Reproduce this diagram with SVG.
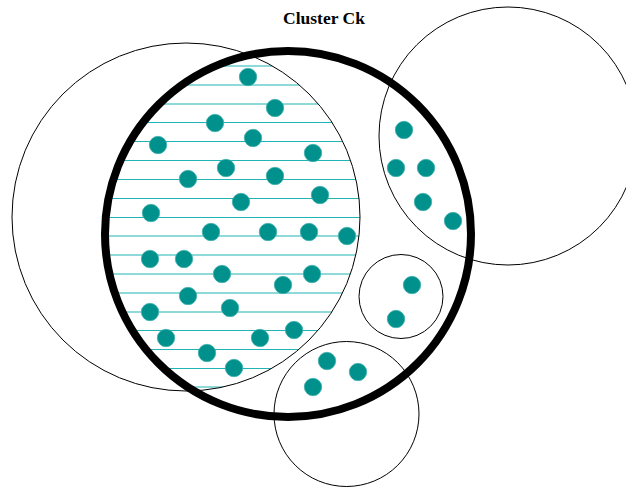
<svg xmlns="http://www.w3.org/2000/svg" width="626" height="488" viewBox="0 0 626 488">
<style>
.set{fill:none;stroke:#000;stroke-width:1}
.cluster{fill:none;stroke:#000;stroke-width:8}
.hatch{stroke:#22b4b4;stroke-width:1.2}
.pt{fill:#00918d;stroke:#3fb0ad;stroke-width:0.8}
.title{font-family:"Liberation Serif","Times New Roman",serif;font-weight:bold;font-size:17.5px;fill:#000}
</style>
<defs>
<clipPath id="cl"><circle cx="288" cy="234" r="183"/></clipPath>
<clipPath id="cs"><circle cx="186" cy="217" r="174"/></clipPath>
</defs>
<rect width="626" height="488" fill="#fff"/>
<text class="title" x="324" y="24" text-anchor="middle">Cluster Ck</text>
<g id="hatching" clip-path="url(#cl)">
<g clip-path="url(#cs)">
<line class="hatch" x1="0" x2="626" y1="66" y2="66"/>
<line class="hatch" x1="0" x2="626" y1="85" y2="85"/>
<line class="hatch" x1="0" x2="626" y1="104" y2="104"/>
<line class="hatch" x1="0" x2="626" y1="122.5" y2="122.5"/>
<line class="hatch" x1="0" x2="626" y1="141.5" y2="141.5"/>
<line class="hatch" x1="0" x2="626" y1="160.5" y2="160.5"/>
<line class="hatch" x1="0" x2="626" y1="179.5" y2="179.5"/>
<line class="hatch" x1="0" x2="626" y1="198.5" y2="198.5"/>
<line class="hatch" x1="0" x2="626" y1="217.5" y2="217.5"/>
<line class="hatch" x1="0" x2="626" y1="236" y2="236"/>
<line class="hatch" x1="0" x2="626" y1="255" y2="255"/>
<line class="hatch" x1="0" x2="626" y1="274" y2="274"/>
<line class="hatch" x1="0" x2="626" y1="293" y2="293"/>
<line class="hatch" x1="0" x2="626" y1="312" y2="312"/>
<line class="hatch" x1="0" x2="626" y1="330.5" y2="330.5"/>
<line class="hatch" x1="0" x2="626" y1="349.5" y2="349.5"/>
<line class="hatch" x1="0" x2="626" y1="368.5" y2="368.5"/>
<line class="hatch" x1="0" x2="626" y1="387" y2="387"/>
</g>
</g>
<g id="set-left"><circle class="set" cx="186" cy="217" r="174"/></g>
<g id="set-right"><circle class="set" cx="508" cy="136" r="129"/></g>
<g id="set-small"><circle class="set" cx="401" cy="296.5" r="42"/></g>
<g id="set-bottom"><circle class="set" cx="346.5" cy="414" r="72.5"/></g>
<g id="cluster-ck"><circle class="cluster" cx="288" cy="234" r="183"/></g>
<g id="points">
<circle class="pt" cx="248" cy="77" r="8.7"/>
<circle class="pt" cx="275" cy="108" r="8.7"/>
<circle class="pt" cx="215" cy="123" r="8.7"/>
<circle class="pt" cx="253" cy="138" r="8.7"/>
<circle class="pt" cx="158" cy="145" r="8.7"/>
<circle class="pt" cx="313" cy="153" r="8.7"/>
<circle class="pt" cx="226" cy="168" r="8.7"/>
<circle class="pt" cx="188" cy="179" r="8.7"/>
<circle class="pt" cx="275" cy="176" r="8.7"/>
<circle class="pt" cx="320" cy="195" r="8.7"/>
<circle class="pt" cx="241" cy="202" r="8.7"/>
<circle class="pt" cx="151" cy="213" r="8.7"/>
<circle class="pt" cx="211" cy="232" r="8.7"/>
<circle class="pt" cx="268" cy="232" r="8.7"/>
<circle class="pt" cx="309" cy="232" r="8.7"/>
<circle class="pt" cx="347" cy="236" r="8.7"/>
<circle class="pt" cx="150" cy="259" r="8.7"/>
<circle class="pt" cx="184" cy="259" r="8.7"/>
<circle class="pt" cx="222" cy="274" r="8.7"/>
<circle class="pt" cx="312" cy="274" r="8.7"/>
<circle class="pt" cx="283" cy="285" r="8.7"/>
<circle class="pt" cx="188" cy="296" r="8.7"/>
<circle class="pt" cx="150" cy="312" r="8.7"/>
<circle class="pt" cx="230" cy="308" r="8.7"/>
<circle class="pt" cx="166" cy="338" r="8.7"/>
<circle class="pt" cx="260" cy="338" r="8.7"/>
<circle class="pt" cx="294" cy="330" r="8.7"/>
<circle class="pt" cx="207" cy="353" r="8.7"/>
<circle class="pt" cx="234" cy="368" r="8.7"/>
<circle class="pt" cx="404" cy="130" r="8.7"/>
<circle class="pt" cx="396" cy="168" r="8.7"/>
<circle class="pt" cx="426" cy="168" r="8.7"/>
<circle class="pt" cx="423" cy="202" r="8.7"/>
<circle class="pt" cx="453" cy="221" r="8.7"/>
<circle class="pt" cx="412" cy="285" r="8.7"/>
<circle class="pt" cx="396" cy="319" r="8.7"/>
<circle class="pt" cx="327" cy="361" r="8.7"/>
<circle class="pt" cx="358" cy="372" r="8.7"/>
<circle class="pt" cx="313" cy="387" r="8.7"/>
</g>
</svg>
